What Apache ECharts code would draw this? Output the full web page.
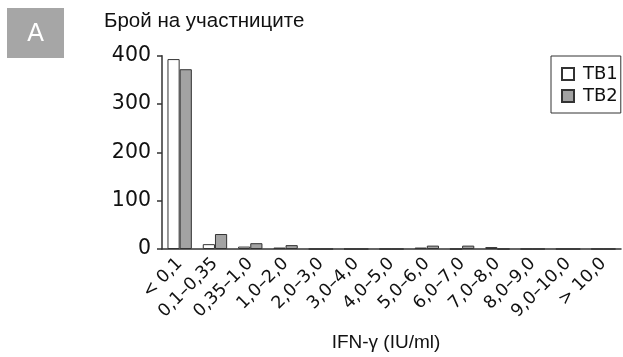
<!DOCTYPE html>
<html><head><meta charset="utf-8">
<script src="https://cdn.jsdelivr.net/npm/echarts@6/dist/echarts.min.js"></script>
<style>html,body{margin:0;padding:0;background:#fff}#c{width:623px;height:357px}</style>
</head><body><div id="c"></div>
<script>
const categories = ['< 0,1','0,1–0,35','0,35–1,0','1,0–2,0','2,0–3,0','3,0–4,0','4,0–5,0','5,0–6,0','6,0–7,0','7,0–8,0','8,0–9,0','9,0–10,0','> 10,0'];
const tb1 = [393, 10, 5, 3, 0, 0, 0, 3, 0, 4, 0, 0, 0];
const tb2 = [372, 31, 12, 8, 0, 0, 0, 7, 7, 0, 0, 0, 0];
const yTicks = [0, 100, 200, 300, 400];
const titleText = 'Брой на участниците';
const xName = 'IFN-γ (IU/ml)';

const chart = echarts.init(document.getElementById('c'), null, {renderer: 'canvas'});
const axisFont = 'DejaVu Sans';
chart.setOption({
  animation: false,
  backgroundColor: '#fff',
  graphic: [
    {type: 'rect', shape: {x: 7, y: 8, width: 57, height: 50}, style: {fill: '#a6a6a6'}},
    {type: 'text', x: 35.5, y: 34, style: {text: 'A', fill: '#fff', font: '25px "Liberation Sans"', textAlign: 'center', textVerticalAlign: 'middle'}},
    {type: 'text', x: 104, y: 21, style: {text: titleText, fill: '#111', font: '20.5px "Liberation Sans"', textVerticalAlign: 'middle'}},
    {type: 'text', x: 386, y: 343, style: {text: xName, fill: '#111', font: '19px "Liberation Sans"', textAlign: 'center', textVerticalAlign: 'middle'}}
  ],
  legend: {
    orient: 'vertical', left: 551, top: 56,
    padding: [9, 3, 8, 10],
    borderColor: '#333', borderWidth: 1,
    itemWidth: 12, itemHeight: 12, itemGap: 4, icon: 'rect',
    textStyle: {fontFamily: axisFont, fontSize: 18, color: '#111', padding: [0, 0, 0, 4]},
    data: ['TB1', 'TB2']
  },
  grid: {left: 162, right: 2, top: 55.7, bottom: 108, containLabel: false},
  xAxis: {
    type: 'category', data: categories,
    axisLine: {lineStyle: {color: '#333', width: 1.5}},
    axisTick: {length: 6, lineStyle: {color: '#333', width: 1.5}},
    axisLabel: {rotate: 45, fontFamily: axisFont, fontSize: 17.5, color: '#111', margin: 12, interval: 0}
  },
  yAxis: {
    type: 'value', min: 0, max: 400, interval: 100,
    axisLine: {show: true, lineStyle: {color: '#333', width: 1.5}},
    axisTick: {show: true, length: 5, lineStyle: {color: '#333', width: 1.5}},
    splitLine: {show: false},
    axisLabel: {fontFamily: axisFont, fontSize: 20.5, color: '#111', margin: 11,
      formatter: v => yTicks.includes(v) ? String(v) : ''}
  },
  series: [
    {name: 'TB1', type: 'bar', data: tb1, barGap: '0%', barCategoryGap: '31%',
     itemStyle: {color: '#ffffff', borderColor: '#333', borderWidth: 1}},
    {name: 'TB2', type: 'bar', data: tb2,
     itemStyle: {color: '#a3a3a3', borderColor: '#333', borderWidth: 1}}
  ]
});
</script></body></html>
